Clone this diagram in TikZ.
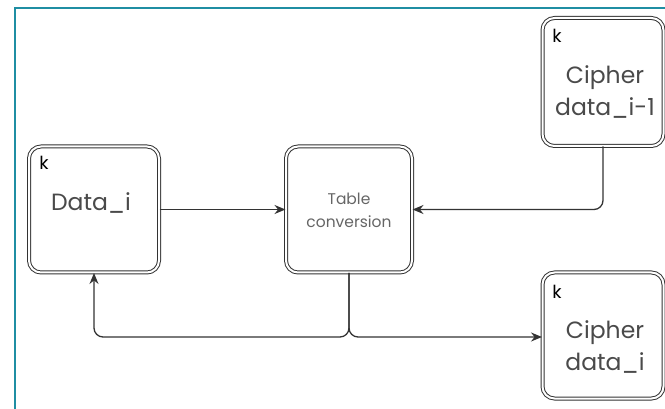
\documentclass[tikz,border=0pt]{standalone}
\usepackage{fontspec}
\setmainfont{Poppins}
\usetikzlibrary{arrows.meta}
\definecolor{framec}{HTML}{1F8EA3}
\definecolor{linec}{HTML}{333333}
\definecolor{textc}{HTML}{4A4A4A}
\tikzset{
  box/.style={draw=linec, double=white, double distance=2pt, line width=1pt,
    rounded corners=12pt, rectangle, inner sep=0pt},
  corner/.style={font=\fontsize{18}{18}\selectfont, text=black, inner sep=0pt},
  big/.style={font=\fontsize{23.5}{32}\selectfont, text=textc, align=center, inner sep=0pt},
  small/.style={font=\fontsize{15.5}{23}\selectfont, text=textc!85, align=center, inner sep=0pt},
  conn/.style={draw=linec, line width=1.3pt, rounded corners=9pt},
  arr/.style={-{Stealth[length=11pt,width=9pt]}}
}
\begin{document}
\begin{tikzpicture}[x=1pt,y=-1pt]
  \useasboundingbox (0,0) rectangle (665,409);
  % outer frame
  \draw[framec, line width=2.2pt] (15,420) -- (15,8) -- (680,8);

  % boxes
  \node[box, minimum width=130pt, minimum height=126pt] (di)  at (94,209.5) {};
  \node[box, minimum width=126pt, minimum height=126pt] (tbl) at (349,209.5) {};
  \node[box, minimum width=121pt, minimum height=128pt] (cim) at (603,82) {};
  \node[box, minimum width=121pt, minimum height=126pt] (ci)  at (603,335.5) {};

  % box texts
  \node[corner] (kdi)  at (44,163) {k};
  \node[big] (tdi) at (91,203) {Data\_i};
  \node[small] (ttbl) at (349,210) {Table\\conversion};
  \node[corner] (kcim) at (557,36) {k};
  \node[big] (tcim) at (605,92) {Cipher\\data\_i-1};
  \node[corner] (kci)  at (557,292) {k};
  \node[big] (tci) at (605,347) {Cipher\\data\_i};

  % connectors
  \coordinate (split) at (349,337);
  \draw[conn, arr] (di.east) -- (tbl.west);
  \draw[conn, arr] (cim.south) |- (tbl.east);
  \draw[conn, arr] (tbl.south) -- (split) -| (di.south);
  \draw[conn, arr] (tbl.south) -- (split) -- (ci.west |- split);
\end{tikzpicture}
\end{document}
